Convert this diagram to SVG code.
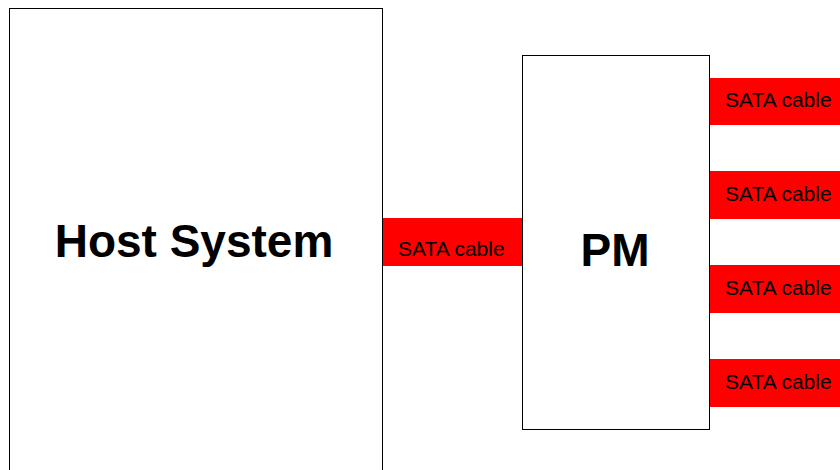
<svg xmlns="http://www.w3.org/2000/svg" width="840" height="470" viewBox="0 0 840 470">
<style>
.box{fill:#fff;stroke:#000;stroke-width:1}
.cable{fill:#ff0000;stroke:none}
.big{font-family:"Liberation Sans",Arial,sans-serif;font-weight:bold;font-size:46px;fill:#000;text-anchor:middle}
.lbl{font-family:"Liberation Sans",Arial,sans-serif;font-size:21px;fill:#000}
</style>
<rect width="840" height="470" fill="#fff"/>
<g id="host">
<rect class="box" x="9.5" y="8.5" width="373" height="470"/>
<text class="big" x="194" y="257">Host System</text>
</g>
<g id="pm">
<rect class="box" x="522.5" y="55.5" width="187" height="374"/>
<text class="big" x="615" y="266">PM</text>
</g>
<g id="connectors">
<g id="cable-host-pm">
<rect class="cable" x="383" y="218" width="139" height="48"/>
<text class="lbl" x="398" y="256">SATA cable</text>
</g>
<g id="cable-1">
<rect class="cable" x="710" y="78" width="130" height="47"/>
<text class="lbl" x="725" y="107">SATA cable</text>
</g>
<g id="cable-2">
<rect class="cable" x="710" y="171" width="130" height="48"/>
<text class="lbl" x="725" y="201">SATA cable</text>
</g>
<g id="cable-3">
<rect class="cable" x="710" y="265" width="130" height="48"/>
<text class="lbl" x="725" y="295">SATA cable</text>
</g>
<g id="cable-4">
<rect class="cable" x="710" y="359" width="130" height="48"/>
<text class="lbl" x="725" y="389">SATA cable</text>
</g>
</g>
</svg>
